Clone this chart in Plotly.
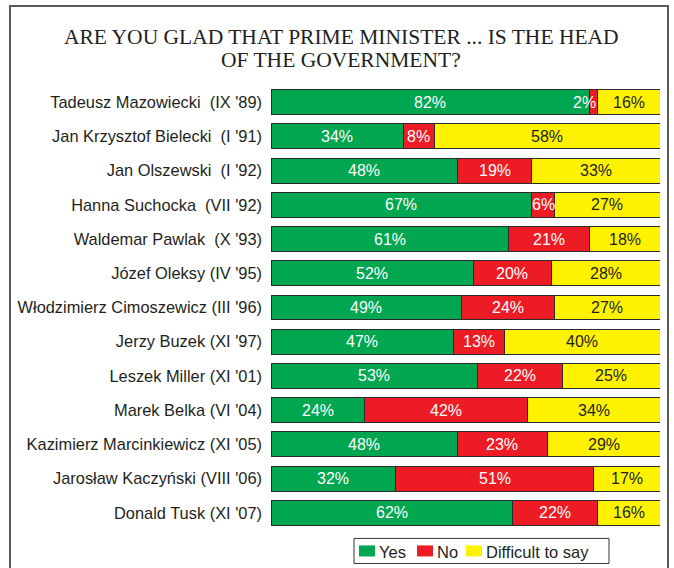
import plotly.graph_objects as go

categories = [
    "Tadeusz Mazowiecki \u00a0(IX '89)",
    "Jan Krzysztof Bielecki \u00a0(I '91)",
    "Jan Olszewski \u00a0(I '92)",
    "Hanna Suchocka \u00a0(VII '92)",
    "Waldemar Pawlak \u00a0(X '93)",
    "Józef Oleksy (IV '95)",
    "Włodzimierz Cimoszewicz (III '96)",
    "Jerzy Buzek (XI '97)",
    "Leszek Miller (XI '01)",
    "Marek Belka (VI '04)",
    "Kazimierz Marcinkiewicz (XI '05)",
    "Jarosław Kaczyński (VIII '06)",
    "Donald Tusk (XI '07)",
]
yes = [82, 34, 48, 67, 61, 52, 49, 47, 53, 24, 48, 32, 62]
no = [2, 8, 19, 6, 21, 20, 24, 13, 22, 42, 23, 51, 22]
difficult = [16, 58, 33, 27, 18, 28, 27, 40, 25, 34, 29, 17, 16]

series = [
    ("Yes", yes, "#00A650", "white"),
    ("No", no, "#ED1C24", "white"),
    ("Difficult to say", difficult, "#FFF200", "#231f20"),
]

W, H = 674, 568
L, R, T, B = 271, 14, 85.4, 38.4
pw, ph = W - L - R, H - T - B

def px_x(p):
    return (p - L) / pw

def px_y(p):
    return (H - B - p) / ph

FONT = "Liberation Sans, Arial"

fig = go.Figure()
for name, vals, color, _ in series:
    fig.add_trace(go.Bar(
        y=categories, x=vals, name=name, orientation="h",
        marker=dict(color=color, line=dict(color="#2b2b2b", width=1)),
        hoverinfo="skip", showlegend=False,
    ))

annotations = []
cum = [0] * len(categories)
for name, vals, color, tcolor in series:
    for i, (c, v) in enumerate(zip(categories, vals)):
        if v < 5:
            annotations.append(dict(x=cum[i] + v, y=c, xref="x", yref="y",
                                    text=f"{v}%", showarrow=False, xanchor="right",
                                    font=dict(color="white", size=16, family=FONT)))
        else:
            annotations.append(dict(x=cum[i] + v / 2, y=c, xref="x", yref="y",
                                    text=f"{v}%", showarrow=False, xanchor="center",
                                    font=dict(color=tcolor, size=16, family=FONT)))
        cum[i] += v

title_lines = ["ARE YOU GLAD THAT PRIME MINISTER ... IS THE HEAD", "OF THE GOVERNMENT?"]
for line, py in zip(title_lines, [37, 60]):
    annotations.append(dict(x=px_x(341), y=px_y(py), xref="paper", yref="paper",
                            text=line, showarrow=False, xanchor="center", yanchor="middle",
                            font=dict(family="Liberation Serif, Times New Roman", size=21.5, color="#231f20")))

shapes = [dict(type="rect", xref="paper", yref="paper",
               x0=px_x(10), x1=px_x(668), y0=px_y(600), y1=px_y(6.5),
               line=dict(color="#5a5a5a", width=2), layer="below")]

# compact legend box (as in the reference)
shapes.append(dict(type="rect", xref="paper", yref="paper",
                   x0=px_x(354), x1=px_x(609), y0=px_y(563), y1=px_y(538),
                   line=dict(color="#333333", width=1), fillcolor="white", layer="above"))
legend_x = [359, 417, 466]
for (name, _, color, _), lx in zip(series, legend_x):
    shapes.append(dict(type="rect", xref="paper", yref="paper",
                       x0=px_x(lx), x1=px_x(lx + 16), y0=px_y(556), y1=px_y(545),
                       line=dict(width=0), fillcolor=color, layer="above"))
    annotations.append(dict(x=px_x(lx + 18), y=px_y(551.5), xref="paper", yref="paper",
                            text=name, showarrow=False, xanchor="left", yanchor="middle",
                            font=dict(family=FONT, size=16.5, color="#231f20")))

fig.update_layout(
    width=W, height=H,
    margin=dict(l=L, r=R, t=T, b=B, autoexpand=False),
    barmode="stack", bargap=0.27,
    paper_bgcolor="white", plot_bgcolor="white",
    showlegend=False,
    xaxis=dict(range=[0, 100], visible=False, fixedrange=True),
    yaxis=dict(autorange="reversed", showgrid=False, zeroline=False, showline=False,
               ticks="", ticklabelstandoff=8,
               tickfont=dict(family=FONT, size=16.4, color="#231f20")),
    annotations=annotations,
    shapes=shapes,
)

fig.write_html("out.html")
